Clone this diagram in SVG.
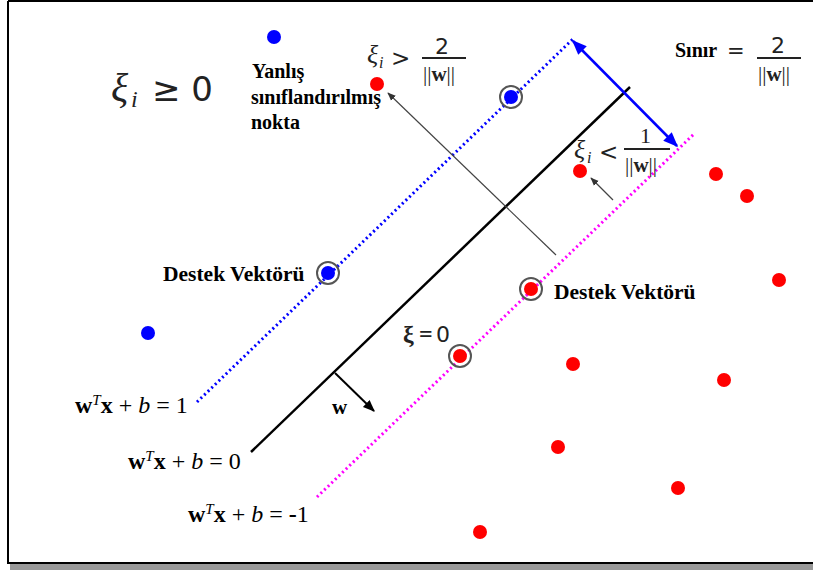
<svg xmlns="http://www.w3.org/2000/svg" width="813" height="570" viewBox="0 0 813 570">
<defs>
<style>
.bg{fill:#fff}
.pb{fill:#0000ff}
.pr{fill:#ff0000}
.ring{fill:none;stroke:#555;stroke-width:2}
.serifb{font-family:"Liberation Serif",serif;font-weight:bold;fill:#000}
.eq{font-family:"Liberation Serif",serif;font-size:24px;fill:#000}
.math{font-family:"Liberation Serif",serif;fill:#222}
.sans{font-family:"DejaVu Sans","Liberation Sans",sans-serif;fill:#222}
.bar{stroke:#222;stroke-width:2}
</style>
<marker id="ah" viewBox="0 0 10 10" refX="9" refY="5" markerWidth="7" markerHeight="7" orient="auto-start-reverse"><path d="M0,1 L10,5 L0,9 z" fill="#333"/></marker>
<marker id="abk" viewBox="0 0 10 10" refX="9" refY="5" markerWidth="6" markerHeight="6" orient="auto-start-reverse"><path d="M0,1 L10,5 L0,9 z" fill="#000"/></marker>
<marker id="ablue" viewBox="0 0 10 10" refX="9" refY="5" markerWidth="6" markerHeight="6" orient="auto-start-reverse"><path d="M0,1 L10,5 L0,9 z" fill="#0000ff"/></marker>
</defs>
<rect class="bg" x="0" y="0" width="813" height="570"/>
<g id="frame">
<rect x="10" y="564" width="803" height="6" fill="#999"/>
<path d="M8,1 H813 M8,1 V563 H813" fill="none" stroke="#000" stroke-width="2"/>
</g>
<g id="connectors">
<line x1="197" y1="402" x2="574" y2="38" stroke="#0000ff" stroke-width="3" stroke-dasharray="2 3"/>
<line x1="251" y1="452" x2="630" y2="87" stroke="#000" stroke-width="2.5"/>
<line x1="317" y1="497" x2="695" y2="133" stroke="#ff00ff" stroke-width="3" stroke-dasharray="2 3"/>
<line x1="573" y1="41" x2="677" y2="146" stroke="#0000ff" stroke-width="2.5" marker-start="url(#ablue)" marker-end="url(#ablue)"/>
<line x1="335" y1="373" x2="374" y2="411" stroke="#000" stroke-width="2" marker-end="url(#abk)"/>
<line x1="556" y1="255" x2="388" y2="93" stroke="#444" stroke-width="1.2" marker-end="url(#ah)"/>
<line x1="613" y1="200" x2="591" y2="178" stroke="#444" stroke-width="1.2" marker-end="url(#ah)"/>
</g>
<g id="blue-points">
<circle class="pb" cx="274" cy="37" r="7"/>
<circle class="pb" cx="511" cy="97" r="7"/>
<circle class="ring" cx="511" cy="97" r="11"/>
<circle class="pb" cx="328" cy="273" r="7"/>
<circle class="ring" cx="328" cy="273" r="11"/>
<circle class="pb" cx="148" cy="333" r="7"/>
</g>
<g id="red-points">
<circle class="pr" cx="377" cy="84" r="7"/>
<circle class="pr" cx="580" cy="171" r="7"/>
<circle class="pr" cx="716" cy="174" r="7"/>
<circle class="pr" cx="747" cy="196" r="7"/>
<circle class="pr" cx="779" cy="280" r="7"/>
<circle class="pr" cx="531" cy="289" r="7"/>
<circle class="ring" cx="531" cy="289" r="11"/>
<circle class="pr" cx="460" cy="356" r="7"/>
<circle class="ring" cx="460" cy="356" r="11"/>
<circle class="pr" cx="573" cy="364" r="7"/>
<circle class="pr" cx="724" cy="380" r="7"/>
<circle class="pr" cx="558" cy="447" r="7"/>
<circle class="pr" cx="678" cy="488" r="7"/>
<circle class="pr" cx="480" cy="532" r="7"/>
</g>
<g id="xi-ge-0">
<text class="math" x="111" y="101" font-size="40" font-style="italic">ξ</text>
<text class="math" x="131" y="107" font-size="24" font-style="italic">i</text>
<text class="sans" x="152" y="101" font-size="34">≥ 0</text>
</g>
<g id="misclassified-label">
<text class="serifb" font-size="20" x="252" y="78">Yanlış</text>
<text class="serifb" font-size="20" x="251" y="104">sınıflandırılmış</text>
<text class="serifb" font-size="20" x="251" y="129">nokta</text>
</g>
<g id="xi-gt">
<text class="math" x="367" y="63" font-size="26" font-style="italic">ξ</text>
<text class="math" x="379" y="68" font-size="16" font-style="italic">i</text>
<text class="sans" x="391" y="66" font-size="23">&gt;</text>
<text class="sans" x="435" y="54" font-size="22">2</text>
<line class="bar" x1="422" y1="58" x2="466" y2="58"/>
<text class="math" x="423" y="81" font-size="21">||<tspan font-weight="bold">w</tspan>||</text>
</g>
<g id="margin-label">
<text class="serifb" font-size="20" x="675" y="57">Sınır</text>
<text class="sans" x="727" y="58" font-size="21">=</text>
<text class="sans" x="771" y="53" font-size="22">2</text>
<line class="bar" x1="757" y1="58" x2="801" y2="58"/>
<text class="math" x="758" y="81" font-size="21">||<tspan font-weight="bold">w</tspan>||</text>
</g>
<g id="xi-lt">
<text class="math" x="574" y="158" font-size="26" font-style="italic">ξ</text>
<text class="math" x="587" y="163" font-size="16" font-style="italic">i</text>
<text class="sans" x="599" y="160" font-size="23">&lt;</text>
<text class="math" x="640" y="143" font-size="22">1</text>
<line class="bar" x1="624" y1="149" x2="670" y2="149"/>
<text class="math" x="625" y="172" font-size="21">||<tspan font-weight="bold">w</tspan>||</text>
</g>
<g id="sv-left"><text class="serifb" font-size="21.5" x="163" y="281">Destek Vektörü</text></g>
<g id="sv-right"><text class="serifb" font-size="21.5" x="554" y="299">Destek Vektörü</text></g>
<g id="xi-eq-0">
<text class="math" x="403" y="342" font-size="24" font-weight="bold">ξ</text>
<text class="math" x="419" y="342" font-size="24" font-weight="bold">=</text>
<text class="sans" x="436" y="342" font-size="22">0</text>
</g>
<g id="w-label"><text class="serifb" font-size="21" x="332" y="414">w</text></g>
<g id="eq1"><text class="eq" x="75" y="413"><tspan font-weight="bold">w</tspan><tspan font-style="italic" font-size="15" dy="-8">T</tspan><tspan font-weight="bold" dy="8">x</tspan> + <tspan font-style="italic">b</tspan> = 1</text></g>
<g id="eq0"><text class="eq" x="128" y="469"><tspan font-weight="bold">w</tspan><tspan font-style="italic" font-size="15" dy="-8">T</tspan><tspan font-weight="bold" dy="8">x</tspan> + <tspan font-style="italic">b</tspan> = 0</text></g>
<g id="eqm1"><text class="eq" x="188" y="522"><tspan font-weight="bold">w</tspan><tspan font-style="italic" font-size="15" dy="-8">T</tspan><tspan font-weight="bold" dy="8">x</tspan> + <tspan font-style="italic">b</tspan> = <tspan font-weight="bold">-</tspan>1</text></g>
</svg>
